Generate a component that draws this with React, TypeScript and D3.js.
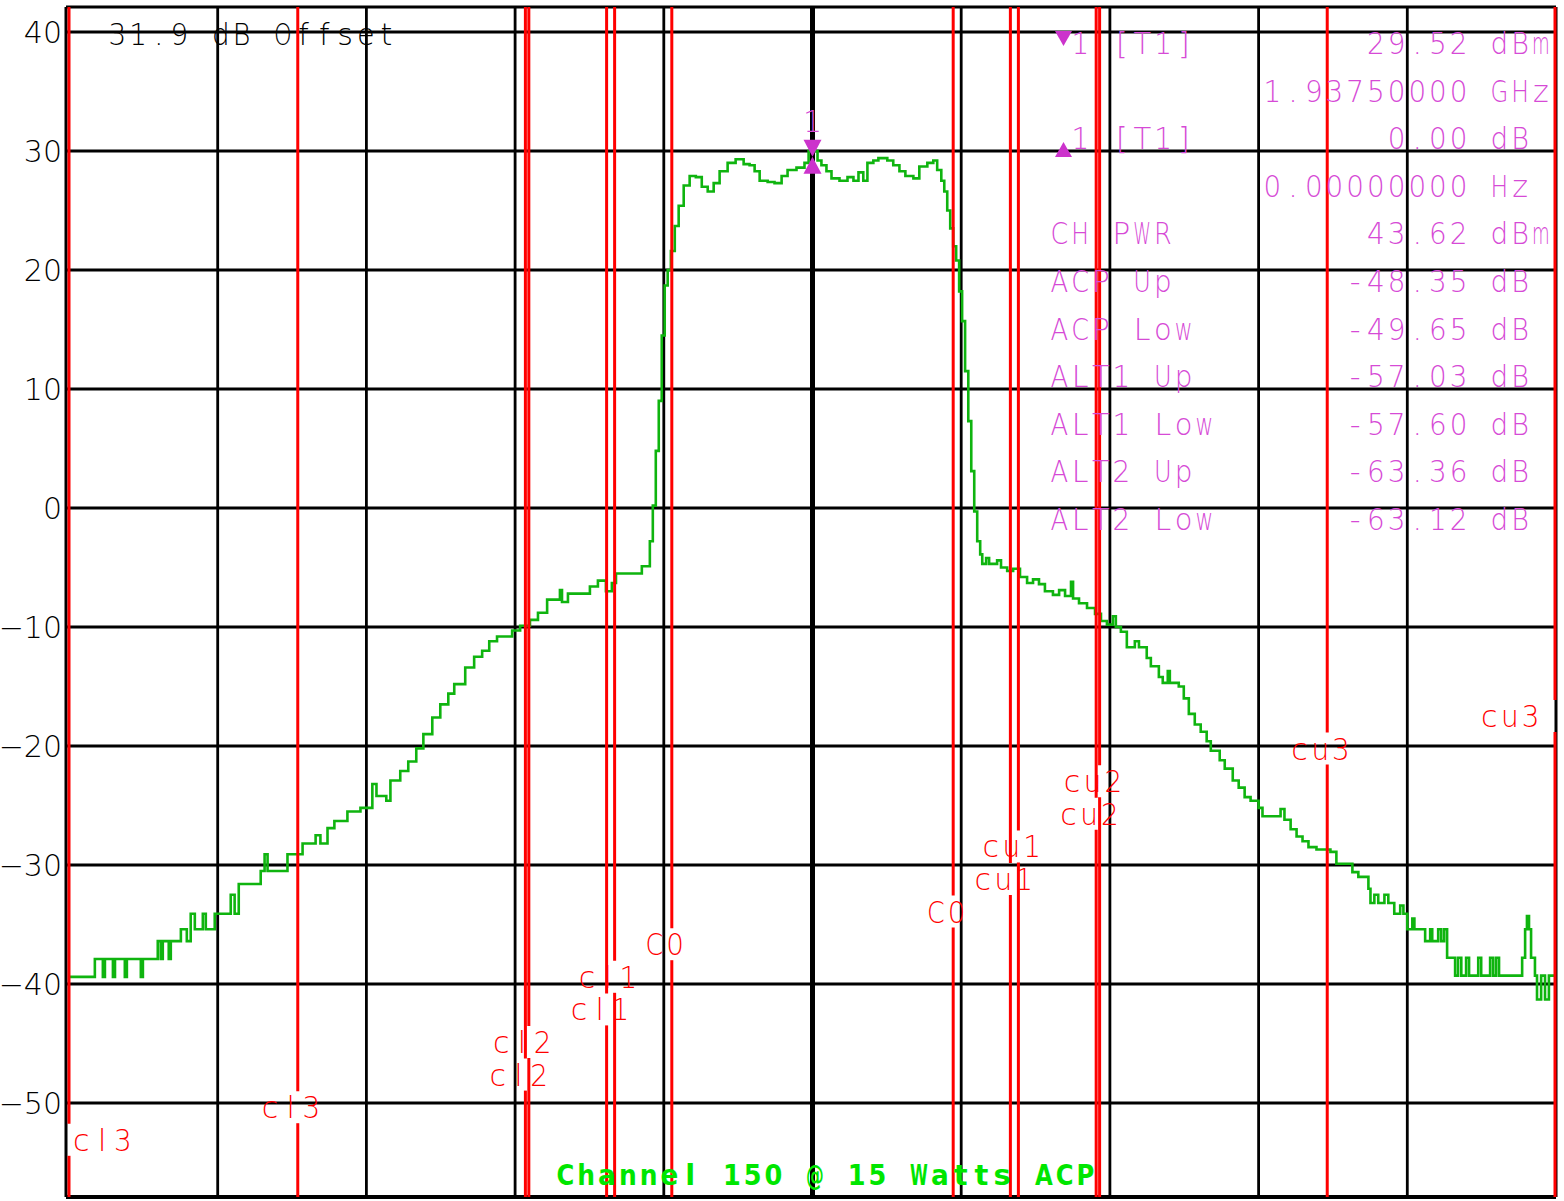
import React from 'react';
import * as d3 from 'd3';

// ---------- data ----------
const spanKHz = 6500; // span around centre 1.9375 GHz
const refLevelTop = 42.1;
const refLevelBottom = -57.9;
const yTickValues = [40, 30, 20, 10, 0, -10, -20, -30, -40, -50];
const xGridStepKHz = 650;

// trace (frequency offset from centre in kHz, level in dBm), stepped analyzer trace
const freqOffsetKHz = [
  -3250, -3137, -3102, -3093, -3058, -3049, -3006, -2997, -2936, -2927, -2862, -2849, -2840, -2814, -2805,
  -2761, -2735, -2718, -2700, -2665, -2652, -2613, -2543, -2526, -2508, -2412, -2395, -2382, -2295, -2229,
  -2172, -2151, -2120, -2090, -2033, -1976, -1924, -1906, -1863, -1845, -1802, -1767, -1732, -1701, -1662,
  -1627, -1592, -1566, -1518, -1479, -1444, -1413, -1379, -1313, -1278, -1235, -1200, -1160, -1112, -1104,
  -1095, -1069, -990, -973, -938, -903, -877, -859, -790, -746, -711, -698, -685, -672, -659, -646, -633,
  -619, -602, -585, -563, -537, -510, -484, -458, -432, -406, -371, -336, -301, -275, -253, -231, -196,
  -166, -135, -109, -70, -35, -17, 22, 39, 61, 83, 118, 153, 179, 201, 222, 240, 266, 288, 327, 353, 380,
  406, 441, 467, 502, 528, 545, 563, 576, 589, 602, 615, 628, 641, 654, 667, 681, 694, 707, 720, 733, 742,
  759, 772, 807, 824, 851, 877, 907, 938, 964, 990, 1016, 1051, 1078, 1104, 1130, 1139, 1165, 1200, 1235,
  1261, 1287, 1313, 1326, 1348, 1374, 1409, 1427, 1461, 1479, 1514, 1531, 1553, 1562, 1601, 1623, 1645,
  1671, 1697, 1723, 1741, 1780, 1802, 1837, 1863, 1889, 1915, 1950, 1967, 2033, 2046, 2063, 2090, 2116,
  2142, 2168, 2203, 2264, 2290, 2360, 2386, 2430, 2439, 2456, 2473, 2500, 2517, 2543, 2569, 2583, 2600,
  2622, 2631, 2678, 2700, 2709, 2735, 2748, 2761, 2774, 2809, 2822, 2836, 2857, 2870, 2910, 2923, 2962,
  2975, 2988, 3001, 3102, 3115, 3123, 3132, 3141, 3158, 3167, 3185, 3202, 3219, 3250,
];
const levelDbm = [
  -39.4, -37.9, -39.4, -37.9, -39.4, -37.9, -39.4, -37.9, -39.4, -37.9, -36.4, -37.9, -36.4, -37.9, -36.4,
  -35.4, -36.4, -34.1, -35.4, -34.1, -35.4, -34.1, -32.5, -34.1, -31.6, -30.5, -29.1, -30.5, -29.1, -28.2,
  -27.5, -28.2, -26.9, -26.3, -25.5, -25.2, -23.2, -24.2, -24.6, -22.9, -22.1, -21.3, -20.2, -19.0, -17.6,
  -16.5, -15.6, -14.8, -13.4, -12.5, -12.0, -11.2, -10.8, -10.3, -9.9, -9.4, -8.8, -7.7, -7.7, -6.9,
  -7.9, -7.2, -7.2, -6.6, -6.1, -7.0, -6.3, -5.5, -5.5, -4.9, -2.8, 0.2, 4.8, 9.0, 14.5, 18.7, 20.0,
  21.6, 23.7, 25.4, 27.1, 27.9, 27.8, 27.0, 26.6, 27.3, 28.3, 29.0, 29.3, 28.9, 28.8, 28.3, 27.5, 27.4,
  27.3, 27.9, 28.4, 28.6, 29.0, 30.0, 29.2, 28.8, 28.3, 27.7, 27.5, 27.8, 27.5, 28.2, 27.5, 29.0, 29.2, 29.4, 29.2, 28.8, 28.3,
  27.9, 27.7, 28.7, 29.0, 29.2, 28.4, 27.5, 26.6, 25.0, 23.5, 22.0, 20.8, 18.2, 15.7, 11.5, 7.3, 3.1, -0.3, -2.8, -3.9, -4.7,
  -4.2, -4.7, -4.4, -5.0, -5.3, -5.1, -5.8, -6.3, -6.0, -6.4, -7.0, -7.3, -6.9, -7.4, -6.2, -7.6, -8.0, -8.4, -8.9,
  -9.5, -9.8, -9.1, -10.0, -10.4, -11.7, -11.2, -11.7, -12.6, -13.3, -14.2, -14.7, -13.7, -14.7, -15.0, -16.0, -17.3,
  -18.2, -18.8, -19.6, -20.4, -21.2, -21.9, -22.9, -23.5, -24.3, -24.6, -25.2, -25.9, -25.9, -25.3, -26.2, -27.0, -27.6,
  -28.0, -28.5, -28.7, -28.9, -29.9, -30.6, -31.0, -32.0, -33.2, -32.5, -33.2, -32.5, -33.2, -34.1, -33.4, -34.1, -35.4,
  -34.5, -35.4, -36.4, -35.4, -36.4, -35.4, -36.4, -35.4, -37.8, -39.3, -37.8, -39.3, -37.8, -39.3, -37.8, -39.3, -37.8,
  -39.3, -37.8, -39.3, -37.8, -35.4, -34.3, -35.4, -37.8, -39.3, -41.3, -39.3, -41.3, -39.3, -39.3,
];

// ACP channel definitions (kHz offset edges)
const channelNames = ['cl3', 'cl2', 'cl1', 'C0', 'cu1', 'cu2', 'cu3'];
const channelLowKHz = [-3250, -1255, -900, -615, 865, 1240, 2250];
const channelHighKHz = [-2250, -1240, -865, 615, 900, 1255, 3250];

// marker / results panel
const markerOffsetKHz = 0;
const markerLevelDbm = 29.52;
const panelLabels = ['1 [T1]', '', '1 [T1]', '', 'CH PWR', 'ACP Up', 'ACP Low', 'ALT1 Up', 'ALT1 Low', 'ALT2 Up', 'ALT2 Low'];
const panelValues = ['29.52', '1.93750000', '0.00', '0.00000000', '43.62', '-48.35', '-49.65', '-57.03', '-57.60', '-63.36', '-63.12'];
const panelUnits = ['dBm', 'GHz', 'dB', 'Hz', 'dBm', 'dB', 'dB', 'dB', 'dB', 'dB', 'dB'];
const offsetText = '31.9 dB Offset';
const footerText = 'Channel 150 @ 15 Watts ACP';

// ---------- layout ----------
const W = 1564;
const H = 1201;
const L = 66, R = 1556, T = 7, B = 1197;
const XL = 69; // first data column
const PITCH = 20.7;
const FONT_NAME = 'DejaVu Sans';
const FONT = "'DejaVu Sans', sans-serif";
const MAGENTA = '#d64ad6';
const RED = '#ff0000';

let measureCtx: CanvasRenderingContext2D | null = null;
function charWidth(ch: string, size: number, weight: number) {
  if (typeof document === 'undefined') return size * 0.6;
  if (!measureCtx) measureCtx = document.createElement('canvas').getContext('2d');
  if (!measureCtx) return size * 0.6;
  measureCtx.font = `${weight} ${size}px '${FONT_NAME}'`;
  return measureCtx.measureText(ch).width;
}

function MonoText({ x, y, text, anchor = 'start', fill, size = 30, weight = 200, pitch = PITCH }: any) {
  const n = text.length;
  const x0 = anchor === 'end' ? x - n * pitch : anchor === 'middle' ? x - (n * pitch) / 2 : x;
  return (
    <text y={y} fill={fill} fontSize={size} fontFamily={FONT} fontWeight={weight} textAnchor="middle"
      style={{ whiteSpace: 'pre' }}>
      {Array.from(text).map((ch: any, i) => {
        const w = ch === ' ' ? 0 : charWidth(ch, size, weight);
        const fit = w > pitch - 3;
        return (
          <tspan key={i} x={x0 + pitch * (i + 0.5)}
            {...(fit ? { textLength: pitch - 3, lengthAdjust: 'spacingAndGlyphs' } : {})}>{ch}</tspan>
        );
      })}
    </text>
  );
}

export default function App() {
  const x = d3.scaleLinear().domain([-spanKHz / 2, spanKHz / 2]).range([XL, R]);
  const y = d3.scaleLinear().domain([refLevelBottom, refLevelTop]).range([B, T]);

  const xGrid = d3.range(-spanKHz / 2 + xGridStepKHz, spanKHz / 2 - 1, xGridStepKHz);
  const trace = freqOffsetKHz.map((f, i) => [f, levelDbm[i]] as [number, number]);
  const line = d3.line<[number, number]>().x(d => x(d[0])).y(d => y(d[1])).curve(d3.curveStepAfter);

  // channel edge lines, sorted right to left for label stacking
  const edges: { name: string; f: number }[] = [];
  channelNames.forEach((n, i) => {
    edges.push({ name: n, f: channelLowKHz[i] });
    edges.push({ name: n, f: channelHighKHz[i] });
  });
  edges.sort((a, b) => b.f - a.f);
  const edgeLines = edges.map((e, i) => {
    const lx = Math.min(Math.max(x(e.f), L + 3), R - 1);
    const ly = 716 + i * 32.6;
    const w = e.name.length * PITCH;
    let cx = lx - 7;
    cx = Math.max(cx, L + 5 + w / 2);
    cx = Math.min(cx, R - 15 - w / 2);
    return { ...e, lx, ly, cx };
  });

  const mx = x(markerOffsetKHz);
  const my = y(markerLevelDbm);

  return (
    <svg width={W} height={H} style={{ position: 'absolute', left: 0, top: 0, background: '#fff' }}>
      <rect x={0} y={0} width={W} height={H} fill="#fff" />
      {/* grid */}
      <g stroke="#000">
        {yTickValues.map(v => (
          <line key={'h' + v} x1={L} x2={R} y1={y(v)} y2={y(v)} strokeWidth={2.8} />
        ))}
        {xGrid.map(f => (
          <line key={'v' + f} x1={x(f)} x2={x(f)} y1={T} y2={B} strokeWidth={f === 0 ? 5 : 2.8} />
        ))}
        <line x1={L} x2={R} y1={T} y2={T} strokeWidth={3} />
        <line x1={L} x2={R} y1={B} y2={B} strokeWidth={4} />
        <line x1={L} x2={L} y1={T} y2={B} strokeWidth={3} />
        <line x1={R} x2={R} y1={T} y2={B} strokeWidth={3} />
      </g>
      {/* y labels */}
      {yTickValues.map(v => (
        <text key={'t' + v} x={62} y={y(v) + 11} textAnchor="end" fontSize={30} fontFamily={FONT} fontWeight={200} fill="#000">
          {v < 0 ? '\u2212' + Math.abs(v) : String(v)}
        </text>
      ))}
      {/* trace */}
      <path d={line(trace) || ''} fill="none" stroke="#0fb40f" strokeWidth={2.6} />
      {/* channel lines */}
      <g stroke={RED} strokeWidth={3}>
        {edgeLines.map((e, i) => (
          <g key={'e' + i}>
            <line x1={e.lx} x2={e.lx} y1={T} y2={e.ly - 16} />
            <line x1={e.lx} x2={e.lx} y1={e.ly + 16} y2={B} />
          </g>
        ))}
      </g>
      {edgeLines.map((e, i) => (
        <MonoText key={'l' + i} x={e.cx} y={e.ly + 11} text={e.name} anchor="middle" fill={RED} />
      ))}
      {/* offset text */}
      <MonoText x={107} y={45} text={offsetText} fill="#000" />
      {/* marker */}
      <path d={`M${mx - 9},${my - 17}L${mx + 9},${my - 17}L${mx},${my}Z`} fill="#cc33cc" />
      <path d={`M${mx - 9},${my + 17}L${mx + 9},${my + 17}L${mx},${my}Z`} fill="#cc33cc" />
      <text x={mx} y={132} textAnchor="middle" fontSize={30} fontFamily={FONT} fontWeight={200} fill={MAGENTA}>1</text>
      {/* results panel */}
      {panelValues.map((v, i) => {
        const by = 54 + i * 47.6;
        return (
          <g key={'p' + i}>
            {panelLabels[i] && (
              <MonoText x={panelLabels[i].startsWith('1') ? 1070 : 1049} y={by} text={panelLabels[i]} fill={MAGENTA} />
            )}
            <MonoText x={1469} y={by} text={v} anchor="end" fill={MAGENTA} />
            <MonoText x={1489} y={by} text={panelUnits[i]} fill={MAGENTA} />
          </g>
        );
      })}
      <path d="M1055,31L1072,31L1063.5,46Z" fill="#cc33cc" />
      <path d="M1055,157L1072,157L1063.5,142Z" fill="#cc33cc" />
      {/* footer */}
      <MonoText x={555} y={1185} text={footerText} fill="#00e600" weight={700} size={29} pitch={20.8} />
    </svg>
  );
}
